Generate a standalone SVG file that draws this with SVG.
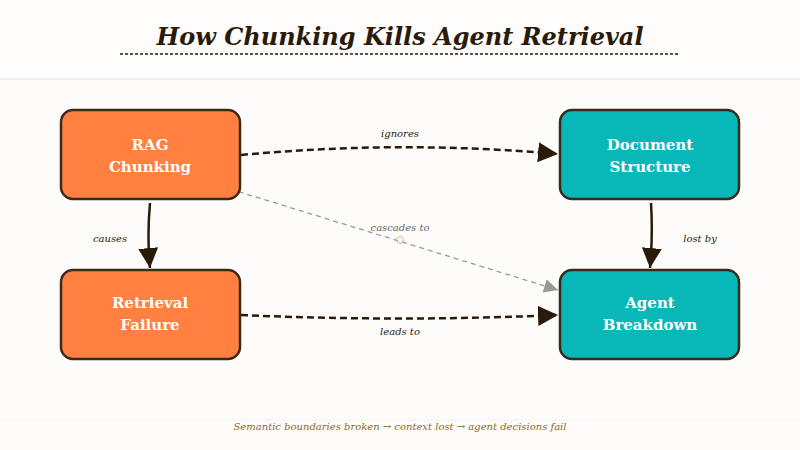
<svg xmlns="http://www.w3.org/2000/svg" width="800" height="450" viewBox="0 0 800 450">
<style>
.node rect{stroke:#3a2a1a;stroke-width:2.5}
.lbl{font-family:"DejaVu Serif",serif;font-weight:bold;font-size:15px;fill:#fff;text-anchor:middle}
.el{font-family:"DejaVu Serif",serif;font-style:italic;font-size:10px;fill:#2a1a0a;text-anchor:middle}
.c{fill:none;stroke:#2a1a0a;stroke-width:2.5;stroke-dasharray:7 4}
</style>
<defs>
<marker id="a" viewBox="0 0 10 10" refX="10" refY="5" markerWidth="8" markerHeight="8" markerUnits="userSpaceOnUse" orient="auto"><path d="M0,0L10,5L0,10z" fill="#2a1a0a"/></marker>
<marker id="ab" viewBox="0 0 10 10" refX="10" refY="5" markerWidth="20" markerHeight="20" markerUnits="userSpaceOnUse" orient="auto"><path d="M0,0L10,5L0,10z" fill="#2a1a0a"/></marker>
<marker id="ag" viewBox="0 0 10 10" refX="10" refY="5" markerWidth="14" markerHeight="14" markerUnits="userSpaceOnUse" orient="auto"><path d="M0,0L10,5L0,10z" fill="#999"/></marker>
</defs>
<rect width="800" height="450" fill="#fdfcfa"/>
<rect x="0" y="0" width="800" height="78" fill="#fefdfc"/>
<line x1="0" y1="79" x2="800" y2="79" stroke="#f3f0ec" stroke-width="2"/>
<line x1="0" y1="420" x2="800" y2="420" stroke="#f3f0ec" stroke-width="1"/>
<text x="400" y="45" text-anchor="middle" font-family="DejaVu Serif,serif" font-weight="bold" font-style="italic" font-size="24" fill="#2a1a0a">How Chunking Kills Agent Retrieval</text>
<line x1="120" y1="54" x2="680" y2="54" stroke="#555" stroke-width="2" stroke-dasharray="3 2"/>
<g id="connectors">
<path class="c" d="M241,155 Q400,140 558,154" marker-end="url(#ab)"/>
<path d="M230,189 L558,290" fill="none" stroke="#999" stroke-width="1.3" stroke-dasharray="5 4" marker-end="url(#ag)"/>
<circle cx="400" cy="240" r="3.5" fill="none" stroke="#f0b090" stroke-width="1"/>
<path class="c" d="M241,315 Q400,322 558,315" marker-end="url(#ab)"/>
<path d="M150,203 Q147,235 150,268" fill="none" stroke="#2a1a0a" stroke-width="2.5" marker-end="url(#ab)"/>
<path d="M651,203 Q653,235 650,268" fill="none" stroke="#2a1a0a" stroke-width="2.5" marker-end="url(#ab)"/>
<text class="el" x="400" y="137">ignores</text>
<text class="el" x="400" y="231" fill="#666" style="fill:#666">cascades to</text>
<text class="el" x="400" y="335">leads to</text>
<text class="el" x="110" y="242">causes</text>
<text class="el" x="700" y="242">lost by</text>
</g>
<g id="rag" class="node"><rect x="61" y="110" width="179" height="89" rx="12" fill="#ff8040"/><text class="lbl" x="150" y="150">RAG</text><text class="lbl" x="150" y="172">Chunking</text></g>
<g id="doc" class="node"><rect x="560" y="110" width="179" height="89" rx="12" fill="#08b8b8"/><text class="lbl" x="650" y="150">Document</text><text class="lbl" x="650" y="172">Structure</text></g>
<g id="ret" class="node"><rect x="61" y="270" width="179" height="89" rx="12" fill="#ff8040"/><text class="lbl" x="150" y="308">Retrieval</text><text class="lbl" x="150" y="330">Failure</text></g>
<g id="agent" class="node"><rect x="560" y="270" width="179" height="89" rx="12" fill="#08b8b8"/><text class="lbl" x="650" y="308">Agent</text><text class="lbl" x="650" y="330">Breakdown</text></g>
<text x="400" y="430" text-anchor="middle" font-family="DejaVu Serif,serif" font-style="italic" font-size="10" fill="#8a6a20">Semantic boundaries broken → context lost → agent decisions fail</text>
</svg>
